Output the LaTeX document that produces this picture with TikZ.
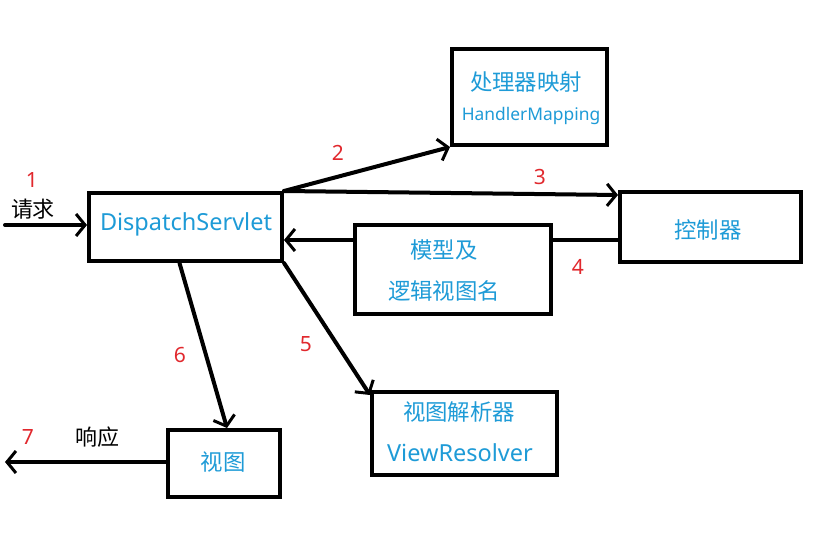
\documentclass[tikz,border=0pt]{standalone}
\usepackage{fontspec}
\setmainfont{Noto Sans CJK SC}
\newfontfamily\latinfont{Noto Sans}
\usetikzlibrary{arrows.meta}
\definecolor{txtblue}{RGB}{30,155,215}
\definecolor{numred}{RGB}{225,40,45}
\tikzset{
  box/.style={draw=black, line width=4pt, fill=white, inner sep=0pt},
  arr/.style={line width=4pt, line cap=round, -{Straight Barb[length=9pt,width=22pt,line width=3pt]}},
  plain/.style={line width=4pt, line cap=round},
  btxt/.style={text=txtblue, font=\fontsize{22.4}{26}\selectfont, inner sep=0pt},
  ltxt/.style={text=txtblue, font=\latinfont\fontsize{23.5}{27}\selectfont, inner sep=0pt},
  num/.style={text=numred, font=\latinfont\fontsize{21}{25}\selectfont, inner sep=0pt},
  blk/.style={text=black, font=\fontsize{22}{26}\selectfont, inner sep=0pt}
}
\begin{document}
\begin{tikzpicture}[x=1pt,y=-1pt]
\useasboundingbox[fill=white] (0,0) rectangle (831,538);
% boxes
\node[box, minimum width=193pt, minimum height=68pt] (ds) at (185.5,227) {};
\node[box, minimum width=155pt, minimum height=96pt] (hm) at (529.5,97) {};
\node[box, minimum width=181pt, minimum height=70pt] (ctrl) at (710.5,227) {};
\node[box, minimum width=196pt, minimum height=89pt] (mv) at (453,269.5) {};
\node[box, minimum width=185pt, minimum height=83pt] (vr) at (464.5,433.5) {};
\node[box, minimum width=112pt, minimum height=67pt] (vw) at (224,463.5) {};
% texts
\node[ltxt] (tds) at (186,224) {DispatchServlet};
\node[btxt] (thm1) at (526,82) {处理器映射};
\node[ltxt, font=\latinfont\fontsize{17.4}{21}\selectfont] (thm2) at (531,116) {HandlerMapping};
\node[btxt] (tctrl) at (708,230) {控制器};
\node[btxt] (tmv1) at (444,250) {模型及};
\node[btxt] (tmv2) at (444,291) {逻辑视图名};
\node[btxt] (tvr1) at (459,412) {视图解析器};
\node[ltxt] (tvr2) at (460,453) {ViewResolver};
\node[btxt] (tvw) at (223,462) {视图};
% labels
\node[num] (n1) at (32,180) {1};
\node[blk] (l1) at (33,209) {请求};
\node[num] (n2) at (338,153) {2};
\node[num] (n3) at (540,177) {3};
\node[num] (n4) at (578,267) {4};
\node[num] (n5) at (306,344) {5};
\node[num] (n6) at (180,355) {6};
\node[num] (n7) at (28,437) {7};
\node[blk] (l7) at (97,437) {响应};
% connectors
\coordinate (in) at (5,225);
\coordinate (out) at (5,462);
\coordinate (y4) at (0,240);
\draw[arr] (in) -- (ds.west |- in);
\draw[arr] (ds.north east) -- (hm.south west);
\draw[arr] (ds.north east) -- ([yshift=-5pt]ctrl.north west);
\draw[plain] (ctrl.west |- y4) -- (mv.east |- y4);
\draw[arr] (mv.west |- y4) -- (ds.east |- y4);
\draw[arr] (ds.south east) -- ([yshift=-5pt]vr.north west);
\draw[arr] ([xshift=-6pt]ds.south) -- ([xshift=3pt]vw.north);
\draw[arr] (vw.west |- out) -- (out);
\end{tikzpicture}
\end{document}
